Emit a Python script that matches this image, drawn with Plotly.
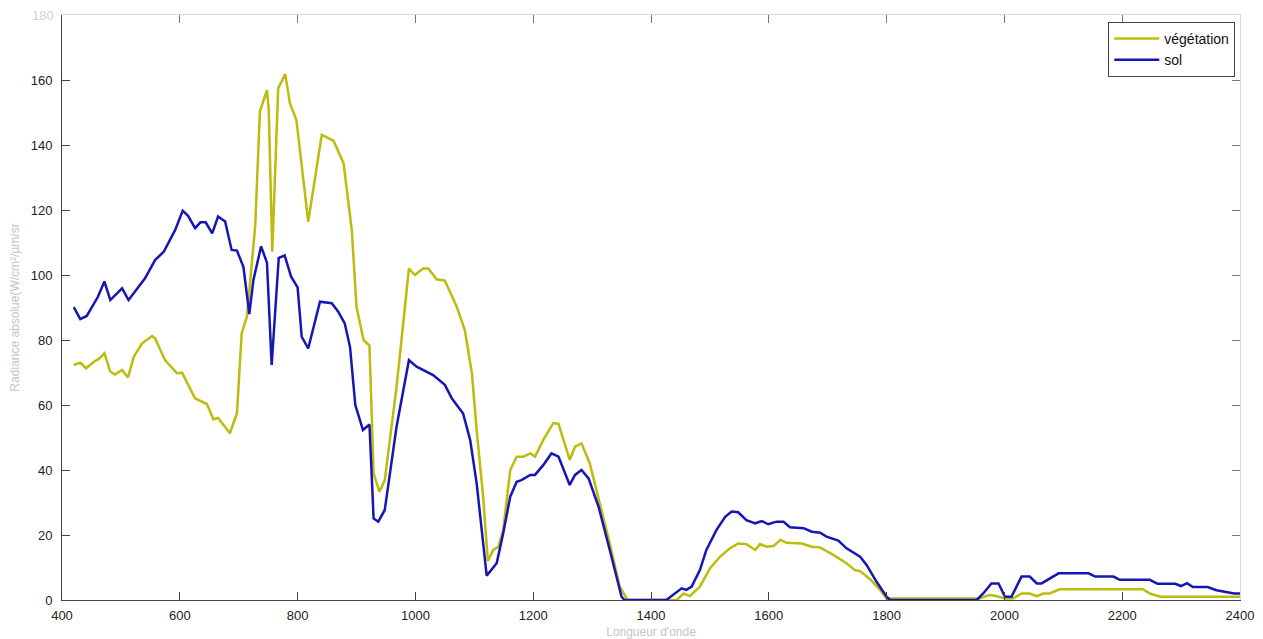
import plotly.graph_objects as go

# Vegetation radiance spectrum (wavelength in nm, radiance in W/cm²/µm/sr)
wl_veg = [420, 431, 441, 454, 462, 472, 482, 490, 502, 512, 522, 536, 553, 558, 575,
          595, 604, 626, 646, 657, 665, 685, 697, 705, 714, 728, 736, 748, 751, 757,
          767, 779, 787, 798, 818, 841, 861, 878, 892, 900, 912, 922, 929, 939, 948,
          968, 989, 999, 1013, 1022, 1036, 1050, 1070, 1084, 1096, 1104, 1115, 1123,
          1132, 1141, 1149, 1161, 1172, 1183, 1195, 1203, 1217, 1234, 1243, 1262,
          1271, 1282, 1296, 1316, 1330, 1347, 1360, 1444, 1455, 1466, 1483, 1500,
          1517, 1534, 1548, 1562, 1577, 1585, 1596, 1608, 1620, 1630, 1656, 1673,
          1687, 1710, 1732, 1746, 1755, 1772, 1789, 1800, 1958, 1974, 1986, 2001,
          2015, 2029, 2043, 2055, 2066, 2077, 2094, 2235, 2247, 2265, 2400]
rad_veg = [72.3, 73.0, 71.3, 73.3, 74.1, 75.9, 70.3, 69.4, 70.8, 68.5, 74.9, 79.0,
           81.2, 80.5, 73.8, 69.8, 69.9, 62.0, 60.3, 55.6, 56.0, 51.3, 57.4, 82.0,
           87.2, 115.0, 150.3, 156.9, 150.8, 107.2, 157.4, 161.8, 152.8, 147.7, 116.4,
           143.1, 141.3, 134.4, 113.8, 90.2, 80.0, 78.3, 39.0, 33.3, 36.9, 65.6, 102.0,
           100.0, 102.0, 102.0, 98.7, 98.3, 90.3, 83.0, 69.7, 52.3, 31.8, 12.0, 15.4,
           16.4, 21.5, 40.0, 44.1, 44.1, 45.1, 44.1, 49.2, 54.4, 54.2, 43.1, 47.2,
           48.2, 42.1, 27.7, 17.4, 4.1, 0.0, 0.0, 2.0, 1.2, 4.1, 9.7, 13.3, 15.9, 17.4,
           17.2, 15.4, 17.2, 16.4, 16.6, 18.5, 17.6, 17.4, 16.4, 16.2, 13.8, 11.3, 9.2,
           8.9, 6.4, 3.1, 0.5, 0.5, 1.5, 1.2, 0.5, 0.5, 2.0, 2.0, 1.2, 2.0, 2.0, 3.3,
           3.3, 2.0, 1.0, 1.0]

# Soil radiance spectrum
wl_sol = [420, 431, 442, 461, 472, 482, 502, 513, 541, 558, 573, 592, 605, 614, 626,
          635, 644, 655, 665, 677, 688, 697, 708, 718, 725, 738, 748, 756, 768, 778,
          789, 800, 807, 818, 838, 858, 869, 880, 889, 898, 911, 922, 929, 937, 948,
          968, 989, 1002, 1030, 1050, 1062, 1081, 1093, 1104, 1121, 1138, 1149, 1161,
          1172, 1180, 1195, 1203, 1217, 1231, 1243, 1262, 1271, 1282, 1294, 1311,
          1330, 1350, 1355, 1426, 1452, 1460, 1469, 1483, 1494, 1511, 1526, 1537,
          1548, 1562, 1577, 1588, 1599, 1613, 1625, 1636, 1659, 1673, 1687, 1698,
          1718, 1732, 1755, 1766, 1783, 1800, 1806, 1953, 1964, 1978, 1990, 2001,
          2012, 2029, 2043, 2055, 2063, 2092, 2143, 2154, 2185, 2196, 2247, 2260,
          2290, 2300, 2310, 2320, 2345, 2360, 2390, 2400]
rad_sol = [90.1, 86.4, 87.4, 93.3, 98.0, 92.3, 95.9, 92.3, 99.0, 104.6, 107.2, 113.8,
           119.8, 118.2, 114.4, 116.2, 116.2, 112.8, 118.0, 116.5, 107.7, 107.5, 102.5,
           88.0, 98.5, 108.8, 103.8, 72.3, 105.3, 106.0, 99.5, 96.2, 81.0, 77.4, 91.8,
           91.3, 88.7, 85.1, 77.9, 60.0, 52.3, 54.0, 25.1, 24.1, 27.7, 53.3, 73.8, 71.8,
           69.2, 66.2, 62.0, 57.4, 49.2, 35.9, 7.5, 11.3, 20.5, 31.8, 36.4, 36.9, 38.5,
           38.5, 41.5, 45.1, 44.1, 35.4, 38.5, 40.0, 37.4, 28.7, 15.4, 1.0, 0.0, 0.0,
           3.6, 3.1, 4.1, 9.2, 15.4, 21.5, 25.6, 27.2, 27.0, 24.6, 23.6, 24.3, 23.3,
           24.1, 24.1, 22.4, 22.1, 21.0, 20.7, 19.5, 18.3, 15.9, 13.3, 10.8, 5.6, 1.0,
           0.0, 0.0, 2.0, 5.1, 5.1, 1.0, 1.0, 7.2, 7.2, 5.1, 5.1, 8.2, 8.2, 7.2, 7.2,
           6.2, 6.2, 5.0, 5.0, 4.3, 5.2, 4.0, 4.0, 3.0, 2.0, 2.0]

x_ticks = [400, 600, 800, 1000, 1200, 1400, 1600, 1800, 2000, 2200, 2400]
y_ticks = [0, 20, 40, 60, 80, 100, 120, 140, 160]

VEG_COLOR = "#bcbc0c"
SOL_COLOR = "#1616b4"
FONT = "Liberation Sans, Arial, sans-serif"

fig = go.Figure()
fig.add_trace(go.Scatter(x=wl_veg, y=rad_veg, mode="lines", name="végétation",
                         line=dict(color=VEG_COLOR, width=2.5)))
fig.add_trace(go.Scatter(x=wl_sol, y=rad_sol, mode="lines", name="sol",
                         line=dict(color=SOL_COLOR, width=2.5)))

# Mirrored (top/right) axes for the lighter box edges with inward ticks
fig.add_trace(go.Scatter(x=[None], y=[None], xaxis="x2", yaxis="y2",
                         showlegend=False, hoverinfo="skip"))

fig.update_layout(
    width=1263, height=639,
    margin=dict(l=62, r=23, t=15, b=39, autoexpand=False),
    paper_bgcolor="white", plot_bgcolor="white",
    font=dict(family=FONT, size=13, color="#222"),
    showlegend=True,
    legend=dict(x=0.996, y=0.988, xanchor="right", yanchor="top",
                bgcolor="white", bordercolor="#444", borderwidth=1,
                itemwidth=45, font=dict(size=14, color="#111"), tracegroupgap=0),
    xaxis=dict(range=[400, 2400], tickvals=x_ticks, ticks="inside", ticklen=8,
               tickcolor="#444", showline=True, linecolor="#444", linewidth=1,
               showgrid=False, zeroline=False, ticklabelstandoff=3,
               automargin=False,
               tickfont=dict(size=13, color="#222"),
               title=dict(text="Longueur d'onde", standoff=10,
                          font=dict(size=12, color="#c4c4c4"))),
    yaxis=dict(range=[0, 180], tickvals=y_ticks, ticks="inside", ticklen=8,
               tickcolor="#444", showline=True, linecolor="#444", linewidth=1,
               showgrid=False, zeroline=False, ticklabelstandoff=6,
               automargin=False,
               tickfont=dict(size=13, color="#222"),
               title=dict(text="Radiance absolue(W/cm²/µm/sr", standoff=8,
                          font=dict(size=12, color="#c4c4c4"))),
    xaxis2=dict(range=[400, 2400], overlaying="x", side="top", tickvals=x_ticks,
                ticks="inside", ticklen=8, tickcolor="#777", showline=True,
                linecolor="#d8d8d8", showticklabels=False, showgrid=False,
                zeroline=False, automargin=False),
    yaxis2=dict(range=[0, 180], overlaying="y", side="right", tickvals=y_ticks,
                ticks="inside", ticklen=8, tickcolor="#777", showline=True,
                linecolor="#d8d8d8", showticklabels=False, showgrid=False,
                zeroline=False, automargin=False),
)

# Faded top tick label
fig.add_annotation(x=0, y=180, xref="paper", yref="y", text="180", showarrow=False,
                   xanchor="right", yanchor="middle", xshift=-6,
                   font=dict(size=13, color="#d0d0d0"))

fig.write_html("out.html")
